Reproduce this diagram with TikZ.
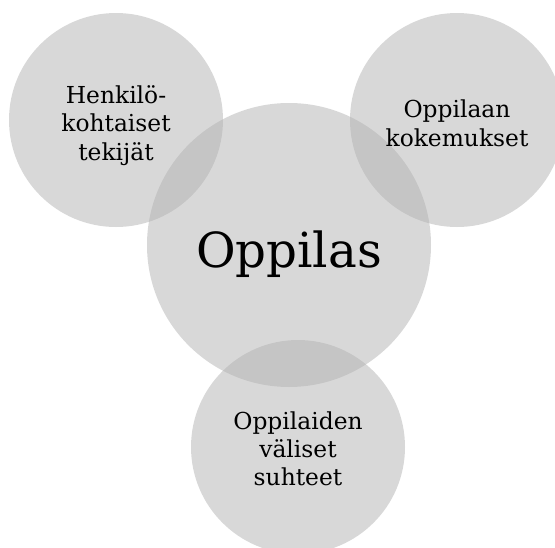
\documentclass[tikz,border=0pt]{standalone}
\usepackage{fontspec}
\setmainfont{DejaVu Serif}
\usepackage{tikz}
\usetikzlibrary{positioning}

\definecolor{bubblegray}{gray}{0.70}
\tikzset{
    bubble/.style={circle, draw=none, fill=bubblegray, fill opacity=0.5, inner sep=0pt},
    smalltext/.style={align=center, text=black, font=\fontsize{13.3}{16.2}\selectfont},
    bigtext/.style={text=black, font=\fontsize{27.5}{32}\selectfont}
}

\begin{document}
\begin{tikzpicture}[x=0.02cm, y=-0.02cm]
    \useasboundingbox (0,0) rectangle (555,548);

    % Circles
    \node[bubble, minimum size=214*0.02cm] (henk) at (116,120) {};
    \node[bubble, minimum size=214*0.02cm] (kokem) at (457,120) {};
    \node[bubble, minimum size=284*0.02cm] (oppilas) at (289,245) {};
    \node[bubble, minimum size=214*0.02cm] (suht) at (298,447) {};

    % Labels
    \node[smalltext] (henkText) at ([yshift=-3pt]henk.center) {Henkilö-\\kohtaiset\\tekijät};
    \node[smalltext] (kokemText) at ([yshift=-2pt]kokem.center) {Oppilaan\\kokemukset};
    \node[bigtext] (oppilasText) at ([yshift=-5pt]oppilas.center) {Oppilas};
    \node[smalltext] (suhtText) at ([yshift=-1pt]suht.center) {Oppilaiden\\väliset\\suhteet};
\end{tikzpicture}
\end{document}
